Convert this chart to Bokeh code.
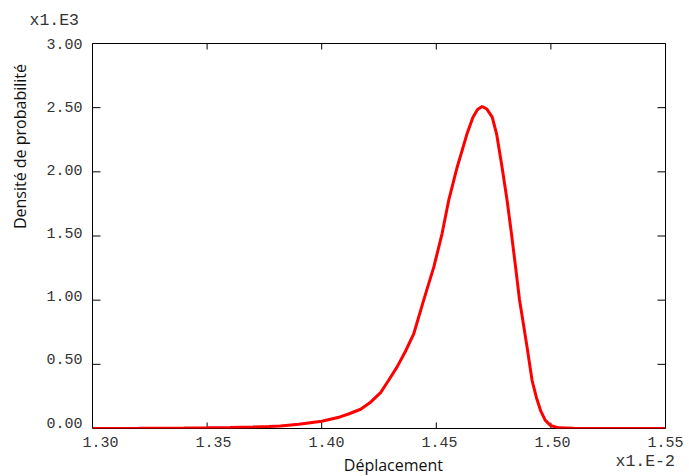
import math
from bokeh.plotting import figure
from bokeh.models import LinearAxis, FixedTicker, Label, Range1d, NumeralTickFormatter
from bokeh.embed import file_html
from bokeh.resources import INLINE

# ---- data (x in units of 1e-2, density in units of 1e3) ----
deplacement = [1.300, 1.320, 1.340, 1.350, 1.360, 1.370, 1.377, 1.382, 1.390, 1.400,
               1.408, 1.412, 1.417, 1.421, 1.4257, 1.429, 1.4329, 1.4365, 1.4402, 1.4445,
               1.4489, 1.4525, 1.4554, 1.4591, 1.4634, 1.4660, 1.468, 1.4700, 1.472, 1.4744,
               1.4763, 1.4787, 1.4809, 1.4828, 1.4846, 1.4863, 1.4875, 1.4896, 1.4918, 1.4937,
               1.4955, 1.4975, 1.4998, 1.5034, 1.510, 1.530, 1.550]
densite = [0.000, 0.001, 0.003, 0.005, 0.008, 0.012, 0.016, 0.020, 0.033, 0.057,
           0.090, 0.115, 0.15, 0.20, 0.28, 0.37, 0.48, 0.60, 0.74, 1.00,
           1.257, 1.517, 1.777, 2.036, 2.296, 2.426, 2.485, 2.509, 2.49, 2.426,
           2.296, 2.036, 1.777, 1.517, 1.257, 1.003, 0.87, 0.634, 0.374, 0.24,
           0.140, 0.065, 0.023, 0.005, 0.001, 0.000, 0.000]

x_ticks = [1.30, 1.35, 1.40, 1.45, 1.50, 1.55]
y_ticks = [0.0, 0.5, 1.0, 1.5, 2.0, 2.5, 3.0]

MONO = "Liberation Mono"
SANS = "Open Sans"
TXT = "#333333"
X0, X1 = 1.30, 1.55
Y0, Y1 = 0.0, 3.0
X_LABEL_SHIFT = 0.0035   # tick labels sit slightly right of their ticks in the original
Y_LABEL_SHIFT = 0.047    # ... and slightly above them

p = figure(width=689, height=476, output_backend="svg", toolbar_location=None,
           x_range=Range1d(X0, X1), y_range=Range1d(Y0, Y1),
           x_axis_location=None, y_axis_location=None,
           min_border_left=92, min_border_right=24, min_border_top=43, min_border_bottom=48)
p.grid.visible = False
p.outline_line_color = "black"
p.outline_line_width = 1
p.background_fill_color = "white"
p.border_fill_color = "white"


def label_axis(ax, standoff):
    ax.axis_line_color = None
    ax.major_tick_line_color = None
    ax.minor_tick_line_color = None
    ax.major_tick_in = 0
    ax.major_tick_out = 0
    ax.minor_tick_in = 0
    ax.minor_tick_out = 0
    ax.major_label_text_font = MONO
    ax.major_label_text_font_size = "15px"
    ax.major_label_text_color = TXT
    ax.major_label_standoff = standoff


# left tick labels (axis on a slightly shifted range; ticks drawn separately)
p.extra_y_ranges["labels"] = Range1d(Y0 - Y_LABEL_SHIFT, Y1)
left = LinearAxis(y_range_name="labels", ticker=FixedTicker(ticks=y_ticks),
                  formatter=NumeralTickFormatter(format="0.00"))
label_axis(left, 10)
p.add_layout(left, "left")

# bottom tick labels
p.extra_x_ranges["labels"] = Range1d(X0 - X_LABEL_SHIFT, X1)
bottom = LinearAxis(x_range_name="labels", ticker=FixedTicker(ticks=x_ticks),
                    formatter=NumeralTickFormatter(format="0.00"))
label_axis(bottom, 8)
p.add_layout(bottom, "below")

# inner ticks on all four edges (half of each dash is clipped by the frame)
p.scatter(x=x_ticks, y=[Y0] * len(x_ticks), marker="dash", size=12, angle=math.pi / 2,
          line_color="black", line_width=1)
p.scatter(x=x_ticks, y=[Y1] * len(x_ticks), marker="dash", size=12, angle=math.pi / 2,
          line_color="black", line_width=1)
p.scatter(x=[X1] * len(y_ticks), y=y_ticks, marker="dash", size=16,
          line_color="black", line_width=1)
p.scatter(x=[X0] * len(y_ticks), y=y_ticks, marker="dash", size=16,
          line_color="black", line_width=1)

p.add_layout(Label(x=X0, y=Y1, text="x1.E3", x_offset=-63, y_offset=23.5,
                   text_baseline="alphabetic", text_align="left", text_font=MONO,
                   text_font_size="16.5px", text_color=TXT), "above")
p.add_layout(Label(x=X1, y=Y0, text="x1.E-2", x_offset=-50, y_offset=-32.5,
                   text_baseline="alphabetic", text_align="left", text_font=MONO,
                   text_font_size="16.5px", text_color=TXT), "above")
p.add_layout(Label(x=1.4313, y=Y0, text="Déplacement", y_offset=-36,
                   text_baseline="alphabetic", text_align="center", text_font=SANS,
                   text_font_size="16px", text_color="#111111"), "below")
p.add_layout(Label(x=X0, y=2.197, text="Densité de probabilité", x_offset=-73,
                   angle=math.pi / 2, text_baseline="alphabetic", text_align="center",
                   text_font=SANS, text_font_size="16px", text_color="#111111"), "left")

p.line(deplacement, densite, line_color="#ff0000", line_width=3)

open("out.html", "w").write(file_html(p, INLINE))
